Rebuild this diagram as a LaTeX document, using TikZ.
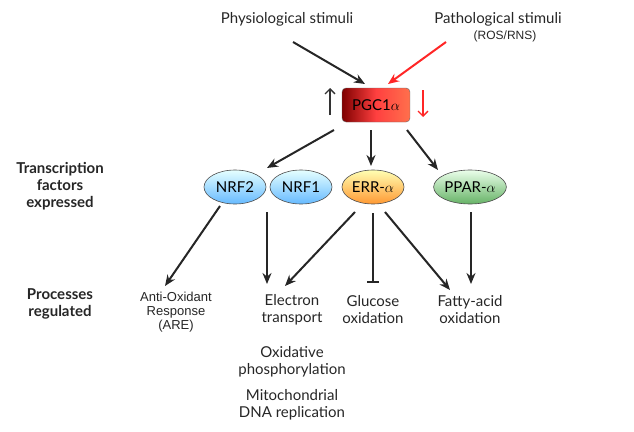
\documentclass[tikz,border=0pt]{standalone}
\usepackage{fontspec}
\setmainfont{Lato}
\newfontfamily\arialf{Liberation Sans}
\usetikzlibrary{arrows.meta,shapes.geometric}
\begin{document}
\begin{tikzpicture}[x=1pt,y=-1pt,
  arr/.style={-{Stealth[length=11pt,width=9pt]},line width=2pt,black!85},
  ell/.style={ellipse,draw=black!70,line width=0.6pt,minimum width=62pt,minimum height=34pt,inner sep=0pt,font=\fontsize{15}{17}\selectfont},
  txt/.style={align=center,font=\fontsize{15}{17}\selectfont,text=black!85},
  lab/.style={align=center,font=\bfseries\fontsize{15}{17}\selectfont,text=black!85}]
\useasboundingbox (0,0) rectangle (634,431);
\node[txt] (phys) at (287,19) {Physiological stimuli};
\node[txt] (path) at (498,19) {Pathological stimuli};
\node[txt,font=\arialf\fontsize{12}{14}\selectfont] (ros) at (505,36) {(ROS/RNS)};
\node[draw=black!60,rounded corners=4pt,minimum width=68pt,minimum height=34pt,
  left color=red!50!black,right color=orange!40!red!70,middle color=red!75,
  font=\fontsize{15}{17}\selectfont] (pgc) at (376,105) {PGC1$\alpha$};
\coordinate (u1) at (330,115); \coordinate (u2) at (330,88);
\draw[-{Straight Barb[length=5pt]},line width=1.3pt,black!80] (u1) -- (u2);
\coordinate (d1) at (423,90); \coordinate (d2) at (423,117);
\draw[-{Straight Barb[length=5pt]},line width=1.3pt,red!85] (d1) -- (d2);
\node[ell,top color=cyan!10,bottom color=cyan!55!blue!60] (nrf2) at (235,187) {NRF2};
\node[ell,top color=cyan!10,bottom color=cyan!55!blue!60] (nrf1) at (301,187) {NRF1};
\node[ell,top color=yellow!30,bottom color=orange!80] (err) at (373,187) {ERR-$\alpha$};
\node[ell,top color=green!8,bottom color=green!50!black!60] (ppar) at (470,187) {PPAR-$\alpha$};
\node[lab] (tf) at (60,186) {Transcription\\factors\\expressed};
\node[lab] (pr) at (60,304) {Processes\\regulated};
\node[txt,font=\arialf\fontsize{13}{14}\selectfont] (ao) at (176,312) {Anti-Oxidant\\Response\\(ARE)};
\node[txt] (et) at (292,310) {Electron\\transport};
\node[txt] (go) at (373,310) {Glucose\\oxidation};
\node[txt] (fa) at (470,310) {Fatty-acid\\oxidation};
\node[txt] (op) at (292,362) {Oxidative\\phosphorylation};
\node[txt] (md) at (292,405) {Mitochondrial\\DNA replication};
\coordinate (p1) at (293,42); \coordinate (p2) at (365,84);
\draw[arr] (p1) -- (p2);
\coordinate (q1) at (446,42); \coordinate (q2) at (388,84);
\draw[arr,red!85!black,draw=red!85] (q1) -- (q2);
\draw[arr] (334,130) -- (267,168);
\draw[arr] (371,130) -- (371,166);
\draw[arr] (407,130) -- (438,170);
\draw[arr] (220,206) -- (165,286);
\draw[arr] (267,212) -- (267,284);
\draw[arr] (355,212) -- (285,286);
\draw[-{Bar[width=12pt]},line width=2pt,black!85] (373,213) -- (373,283);
\draw[arr] (385,212) -- (450,290);
\draw[arr] (471,212) -- (471,284);
\end{tikzpicture}
\end{document}
